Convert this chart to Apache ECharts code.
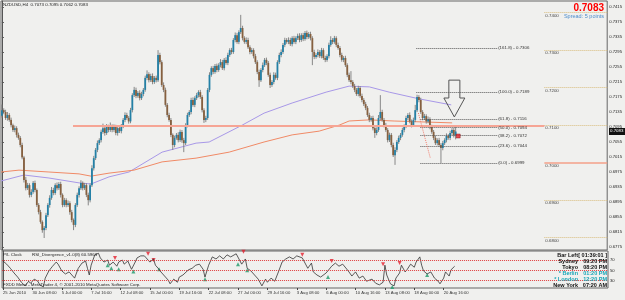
<!DOCTYPE html>
<html>
<head>
<meta charset="utf-8">
<script src="https://cdn.jsdelivr.net/npm/echarts@6/dist/echarts.min.js"></script>
<style>
html,body{margin:0;padding:0;background:#f0f0ee;}
#chartmain{width:625px;height:300px;}
</style>
</head>
<body>
<div id="chartmain"></div>
<script>
// NZDUSD H4 - closes in pips (price*10000), open of a bar = close of the bar before
var firstOpen = 7125;
var closes = [
 7140,7135,7119,7127,7114,7100,7087,7092,7074,7066,
 7047,7014,6954,6932,6940,6914,6922,6946,6927,6887,
 6868,6842,6820,6826,6860,6887,6906,6927,6919,6940,
 6932,6943,6914,6887,6900,6887,6892,6868,6847,6834,
 6887,6914,6932,6946,6932,6940,6914,6900,6940,6985,
 7012,7034,7052,7060,7082,7092,7079,7095,7087,7097,
 7087,7095,7079,7092,7084,7097,7114,7127,7119,7110,
 7140,7180,7194,7178,7186,7172,7183,7194,7226,7236,
 7220,7231,7215,7226,7220,7287,7268,7207,7194,7154,
 7127,7114,7074,7047,7066,7074,7060,7082,7060,7052,
 7100,7127,7135,7167,7154,7172,7180,7188,7175,7140,
 7114,7119,7194,7234,7252,7242,7258,7247,7260,7268,
 7252,7274,7266,7287,7300,7295,7327,7340,7322,7348,
 7359,7332,7322,7327,7308,7295,7300,7284,7268,7242,
 7220,7247,7260,7274,7266,7234,7207,7215,7234,7226,
 7268,7287,7295,7314,7327,7322,7327,7316,7332,7322,
 7332,7338,7327,7340,7330,7346,7335,7343,7332,7295,
 7282,7287,7295,7284,7300,7279,7274,7284,7314,7327,
 7322,7332,7314,7306,7287,7274,7279,7260,7234,7220,
 7215,7204,7194,7183,7199,7178,7167,7156,7146,7127,
 7114,7119,7092,7079,7087,7119,7135,7114,7100,7087,
 7060,7074,7047,7020,7034,7055,7066,7074,7087,7097,
 7119,7127,7110,7100,7114,7140,7175,7167,7135,7119,
 7124,7110,7116,7095,7082,7066,7052,7060,7047,7039,
 7052,7060,7071,7066,7079,7087,7073,7083
];
// upper / lower shadow lengths in pips
var wickUp = [
 15,5,6,8,5,6,4,7,5,6, 5,6,4,8,6,5,7,5,6,4, 5,6,4,5,6,5,7,8,6,5, 7,5,6,4,6,5,7,5,6,4,
 5,6,5,7,4,6,5,6,5,8, 6,5,7,5,6,12,5,8,6,10, 5,7,6,8,5,6,5,7,6,5, 6,5,8,6,5,7,6,5,6,10,
 5,6,7,5,6,13,6,5,7,6, 5,6,5,4,6,5,7,6,5,6, 5,6,5,6,7,5,6,5,6,5, 5,6,5,7,5,6,5,6,5,8,
 6,5,7,6,5,6,5,7,6,5, 35,6,5,7,6,5,6,5,6,5, 6,5,7,5,6,5,6,5,7,6, 5,6,7,5,6,5,7,6,5,6,
 5,6,7,5,6,5,6,5,6,5, 6,5,7,5,6,5,6,5,6,10, 5,6,5,6,5,6,5,6,5,6, 24,5,6,5,6,5,6,5,6,5,
 6,5,6,5,7,8,45,6,5,6, 5,6,5,6,7,5,6,5,6,5, 6,5,7,5,6,14,6,5,6,5, 6,5,7,5,6,5,6,5,6,5,
 6,5,7,5,6,5,6,12
];
var wickDn = [
 5,6,5,7,5,6,5,6,7,5, 6,5,7,6,5,7,6,5,6,5, 6,5,7,21,6,5,7,5,6,5, 6,5,7,6,5,6,5,7,6,14,
 6,5,7,5,6,5,6,14,6,5, 6,5,6,5,6,5,7,5,6,5, 6,5,6,7,5,6,5,6,5,6, 5,6,5,6,5,6,5,6,5,6,
 6,5,6,5,6,5,6,5,6,5, 6,5,6,13,6,5,6,5,7,24, 5,6,5,6,5,6,5,6,5,6, 8,6,5,6,5,6,5,6,5,6,
 5,6,5,6,5,6,5,6,5,6, 5,6,5,6,5,6,5,6,5,6, 18,5,6,5,6,5,8,5,6,5, 6,5,6,5,6,5,6,5,6,5,
 6,5,6,5,6,5,6,5,6,35, 6,5,6,5,6,5,6,5,6,5, 6,5,6,5,6,5,6,5,6,5, 6,5,6,5,6,5,6,5,6,5,
 6,5,6,13,6,5,6,5,6,5, 6,5,6,5,26,6,5,6,5,6, 5,6,5,6,5,6,5,6,5,6, 5,6,5,6,5,6,5,6,5,40,
 6,5,6,5,6,5,6,11
];
var slotCount = 330;
var tickLabels = ['25 Jun 2010','30 Jun 08:00','5 Jul 00:00','7 Jul 16:00','12 Jul 08:00','15 Jul 00:00',
 '19 Jul 16:00','22 Jul 08:00','27 Jul 00:00','29 Jul 16:00','3 Aug 08:00','6 Aug 00:00',
 '10 Aug 16:00','13 Aug 08:00','18 Aug 00:00','20 Aug 16:00'];
var priceTicks = [0.7415,0.7375,0.7335,0.7295,0.7255,0.7215,0.7175,0.7135,0.7095,0.7055,
 0.7015,0.6975,0.6935,0.6895,0.6855,0.6815,0.6775];
// moving averages: [bar index, pips]
var maPurple = [[-0.5,6951],[12,6967],[25.6,6959],[42,6946],[48.5,6943],[58.3,6962],[69.2,6975],
 [87.2,7028],[105.7,7052],[112.8,7055],[130.8,7100],[142.7,7132],[158,7159],[176.5,7188],
 [189,7204],[200,7202],[210.8,7188],[227.2,7170],[244.6,7154]];
var maOrange = [[-0.5,6975],[9.3,6980],[25.6,6975],[42,6970],[48.5,6964],[58.3,6972],[71.9,6980],
 [87.2,7002],[105.7,7012],[123.7,7028],[142.7,7055],[158,7074],[172.7,7084],[183.6,7100],
 [189,7111],[200,7114],[213.5,7111],[245.1,7106]];
var fibNames = ['161.8','100.0','61.8','50.0','38.2','23.6','0.0'];
var fibPrices = [0.7306,0.7189,0.7116,0.7094,0.7072,0.7044,0.6999];
var roundLevels = [0.7400,0.7300,0.7200,0.7100,0.7000,0.6900,0.6800];
var lastPrice = 0.7083;
// RSI divergence indicator: [bar index, value]
var rsiPoints = [[0,68],[2,62],[4,54],[6,45],[8,37],[10,27],[12,20],[14,29],[15,25],[17,33],[19,29],
 [20,22],[22,18],[23,35],[25,49],[27,58],[29,66],[30,62],[32,49],[34,43],[36,47],[38,39],[39,35],
 [41,54],[43,64],[45,68],[46,54],[47,41],[48,60],[50,80],[52,83],[53,74],[55,66],[57,70],[58,60],
 [60,66],[62,58],[63,66],[65,70],[66,62],[68,68],[70,52],[72,66],[73,74],[75,78],[77,78],[78,74],
 [80,66],[82,72],[83,60],[85,52],[86,47],[88,39],[90,31],[91,24],[93,33],[95,27],[96,37],[98,41],
 [101,51],[103,54],[105,60],[107,62],[109,52],[110,37],[112,60],[114,76],[116,72],[118,78],[120,72],
 [122,80],[124,76],[127,82],[128,80],[130,62],[132,72],[133,54],[135,49],[137,41],[139,33],[141,20],
 [143,33],[144,27],[146,35],[148,29],[150,47],[152,66],[154,72],[156,76],[158,72],[160,78],[163,74],
 [164,76],[166,54],[168,64],[169,47],[171,41],[173,37],[176,45],[177,43],[179,58],[181,64],[183,58],
 [185,62],[188,49],[190,39],[192,47],[194,35],[196,39],[198,29],[201,33],[203,25],[205,22],[207,27],
 [208,60],[209,41],[211,24],[213,20],[214,35],[216,45],[217,60],[219,47],[220,51],[222,62],[224,56],
 [225,66],[227,76],[228,60],[229,49],[231,43],[233,47],[235,35],[237,29],[238,24],[240,35],[241,47],
 [243,39],[244,51],[246,58]];
var rsiBuy = [[20,15],[57,60],[59,54],[63,52],[71,48],[85,52],[110,33],[128,62],[133,50],[177,37],[212,18],[231,41]];
var rsiSell = [[61,74],[79,82],[82,70],[131,86],[163,80],[179,68],[207,62],[216,64]];
// arrow drawing, [bar index, price]
var arrowShape = [[243.3,0.7220],[249.3,0.7220],[249.3,0.71723],[252,0.71723],[246.3,0.71217],
 [240.6,0.71723],[243.3,0.71723]];

var cats = [];
for (var i = 0; i < slotCount; i++) {
  cats.push(i % 16 === 0 && i / 16 < tickLabels.length ? tickLabels[i / 16] : '');
}
var candles = closes.map(function (c, i) {
  var o = i === 0 ? firstOpen : closes[i - 1];
  var h = Math.max(o, c) + wickUp[i], l = Math.min(o, c) - wickDn[i];
  return [i, o / 10000, c / 10000, l / 10000, h / 10000];
});
var toPrice = function (p) { return [p[0], p[1] / 10000]; };

function renderCandle(params, api) {
  var x = api.value(0);
  var o = api.value(1), c = api.value(2), l = api.value(3), h = api.value(4);
  var pO = api.coord([x, o]), pC = api.coord([x, c]);
  var pL = api.coord([x, l]), pH = api.coord([x, h]);
  var w = 1.8;
  var top = Math.min(pO[1], pC[1]);
  var hh = Math.max(Math.abs(pO[1] - pC[1]), 1);
  return {
    type: 'group',
    children: [
      {type: 'line', shape: {x1: pH[0], y1: pH[1], x2: pL[0], y2: pL[1]}, style: {stroke: '#7c7c7c', lineWidth: 0.9}},
      {type: 'rect', shape: {x: pO[0] - w / 2, y: top, width: w, height: hh},
       style: {fill: c >= o ? '#2380a6' : '#86603f'}}
    ]
  };
}

var fibLines = fibNames.map(function (n, k) {
  var x0 = k < 2 ? 225.6 : 227.8;
  return [{coord: [x0, fibPrices[k]]},
          {coord: [269.6, fibPrices[k]], label: {formatter: '(' + n + ') - ' + fibPrices[k].toFixed(4)}}];
});
var levelLines = roundLevels.map(function (v) {
  var solid = v === 0.7;
  return [{coord: [295.3, v], lineStyle: {type: solid ? 'solid' : 'dotted', color: solid ? '#f4a088' : '#d8bc7c', width: solid ? 1.5 : 1},
           label: {show: true, position: 'insideStartBottom', formatter: v.toFixed(4), color: '#444', fontSize: 4.4, distance: 1}},
          {coord: [329.5, v]}];
});

var font = 'Liberation Sans';
var option = {
  backgroundColor: '#f0f0ee',
  animation: false,
  textStyle: {fontFamily: font},
  grid: [
    {left: 1, top: 1, width: 607, height: 249, show: true, borderColor: '#666', borderWidth: 1},
    {left: 1, top: 251, width: 607, height: 37, show: true, borderColor: '#666', borderWidth: 1}
  ],
  xAxis: [
    {type: 'category', gridIndex: 0, data: cats, boundaryGap: true, axisLine: {show: false}, axisTick: {show: false}, axisLabel: {show: false}},
    {type: 'value', gridIndex: 0, min: -0.5, max: slotCount - 0.5, show: false},
    {type: 'category', gridIndex: 1, data: cats, boundaryGap: true,
     axisLine: {show: false},
     axisTick: {show: true, length: 2, alignWithLabel: true, lineStyle: {color: '#444'},
                interval: function (idx, v) { return v !== ''; }},
     axisLabel: {show: true, align: 'left', fontSize: 4.2, color: '#333', margin: 3,
                 interval: function (idx, v) { return v !== ''; }}},
    {type: 'value', gridIndex: 1, min: -0.5, max: slotCount - 0.5, show: false}
  ],
  yAxis: [
    {type: 'value', gridIndex: 0, position: 'right', min: 0.6767, max: 0.7431, scale: true,
     splitLine: {show: false},
     axisLine: {show: true, lineStyle: {color: '#555'}},
     axisTick: {show: true, length: 2, customValues: priceTicks, lineStyle: {color: '#555'}},
     axisLabel: {customValues: priceTicks, fontSize: 4.2, color: '#222', margin: 2,
                 formatter: function (v) { return v.toFixed(4); }}},
    {type: 'value', gridIndex: 1, position: 'right', min: 15.9, max: 87.4,
     splitLine: {show: false},
     axisLine: {show: true, lineStyle: {color: '#555'}},
     axisTick: {show: true, length: 2, customValues: [30, 50, 70], lineStyle: {color: '#555'}},
     axisLabel: {customValues: [30, 50, 70], fontSize: 4.2, color: '#222', margin: 2}}
  ],
  series: [
    {type: 'custom', xAxisIndex: 0, yAxisIndex: 0, renderItem: renderCandle, data: candles,
     encode: {x: 0, y: [1, 2, 3, 4]}, z: 3},
    {type: 'line', xAxisIndex: 1, yAxisIndex: 0, data: maPurple.map(toPrice), symbol: 'none',
     lineStyle: {color: '#a898e8', width: 1}, z: 2},
    {type: 'line', xAxisIndex: 1, yAxisIndex: 0, data: maOrange.map(toPrice), symbol: 'none',
     lineStyle: {color: '#f08a66', width: 1}, z: 2},
    {type: 'line', xAxisIndex: 1, yAxisIndex: 0, data: [], symbol: 'none', z: 4,
     markLine: {silent: true, symbol: 'none', animation: false,
       lineStyle: {type: 'dotted', color: '#555', width: 1},
       label: {show: true, position: 'end', fontSize: 4.4, color: '#333', distance: 1},
       data: fibLines.concat(levelLines).concat([
         [{coord: [38.7, 0.7097], lineStyle: {type: 'solid', color: '#f6a595', width: 2}, label: {show: false}}, {coord: [295.3, 0.7097]}],
         [{coord: [226.7, 0.71323], lineStyle: {type: 'dotted', color: '#f08070', width: 1}, label: {show: false}}, {coord: [233.2, 0.70124]}]
       ])}},
    {type: 'scatter', xAxisIndex: 1, yAxisIndex: 0, data: [[248.4, 0.7071]], symbol: 'rect', symbolSize: 4,
     itemStyle: {color: '#e8202a', borderColor: '#701010', borderWidth: 0.5}, z: 5},
    {type: 'line', xAxisIndex: 3, yAxisIndex: 1, data: rsiPoints, symbol: 'none',
     lineStyle: {color: '#333', width: 0.8},
     markLine: {silent: true, symbol: 'none', label: {show: false},
       lineStyle: {type: 'dotted', color: '#e03c3c', width: 1},
       data: [{yAxis: 70}, {yAxis: 50}, {yAxis: 30}]}},
    {type: 'scatter', xAxisIndex: 3, yAxisIndex: 1, data: rsiBuy, symbol: 'triangle', symbolSize: 4,
     itemStyle: {color: '#1f9a6a'}},
    {type: 'scatter', xAxisIndex: 3, yAxisIndex: 1, data: rsiSell, symbol: 'triangle', symbolSize: 4, symbolRotate: 180,
     itemStyle: {color: '#e5202e'}}
  ]
};

var myChart = echarts.init(document.getElementById('chartmain'));
myChart.setOption(option);

var arrowPx = arrowShape.map(function (p) { return myChart.convertToPixel({xAxisIndex: 1, yAxisIndex: 0}, p); });
var lastY = myChart.convertToPixel({yAxisIndex: 0}, lastPrice);
var txt = function (x, y, s, opt) {
  return {type: 'text', x: x, y: y, silent: true, z: 10,
    style: Object.assign({text: s, fontSize: 4.4, fill: '#222', fontFamily: font, textVerticalAlign: 'top'}, opt || {})};
};
var infoNames = ['Bar Left', 'Sydney', 'Tokyo', '* Berlin', '* London', 'New York'];
var infoTimes = ['[ 01:39:01 ]', '09:20 PM', '08:20 PM', '01:20 PM', '12:20 PM', '07:20 AM'];
var infoColors = ['#111', '#111', '#111', '#18a6b8', '#18a6b8', '#111'];
var graphics = [
  {type: 'polygon', shape: {points: arrowPx}, style: {fill: 'none', stroke: '#555', lineWidth: 1}, z: 10, silent: true},
  txt(3, 3, 'NZDUSD,H4  0.7073 0.7095 0.7062 0.7083'),
  txt(604, 3, '0.7083', {fontSize: 10, fontWeight: 'bold', fill: '#ff0000', textAlign: 'right'}),
  txt(604, 13, 'Spread: 5 points', {fontSize: 5.5, fill: '#4b8ccc', textAlign: 'right'}),
  txt(3, 253, 'P/L Clock'),
  txt(32, 253, 'RSI_Divergence_v1.0(8) 60.5963'),
  txt(3, 283, 'FXDD Metal - MetaTrader 4, \u00a9 2001-2010 MetaQuotes Software Corp.'),
  {type: 'rect', shape: {x: 609, y: lastY - 3.5, width: 16, height: 7}, style: {fill: '#111'}, z: 10, silent: true},
  txt(610, lastY - 2.5, lastPrice.toFixed(4), {fill: '#fff'})
];
infoNames.forEach(function (n, k) {
  graphics.push(txt(578, 252 + k * 6, n, {fontSize: 5.5, fontWeight: 'bold', fill: infoColors[k], textAlign: 'right'}));
  graphics.push(txt(607, 252 + k * 6, infoTimes[k], {fontSize: 5.5, fontWeight: 'bold', fill: infoColors[k], textAlign: 'right'}));
});
myChart.setOption({graphic: graphics});
</script>
</body>
</html>
